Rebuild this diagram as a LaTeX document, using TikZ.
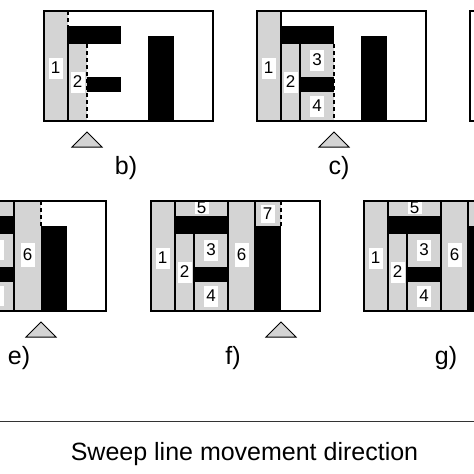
\documentclass[tikz,border=0pt]{standalone}
\usepackage{fontspec}
\setmainfont{Liberation Sans}
\definecolor{lg}{RGB}{212,212,212}
\begin{document}
\begin{tikzpicture}[x=1pt,y=-1pt,
  box/.style={draw=black,line width=1.9pt},
  sep/.style={draw=black,line width=1.3pt},
  sweepline/.style={draw=black,line width=1.3pt,dash pattern=on 4pt off 3pt},
  num/.style={fill=white,inner sep=0pt,minimum width=14pt,minimum height=21pt,font=\fontsize{17}{18}\selectfont},
  tag/.style={font=\fontsize{25}{28}\selectfont,anchor=base},
  marker/.style={draw=black,fill=lg,line width=1pt,line join=miter}]
\useasboundingbox (0,0) rectangle (474,474);
\clip (0,0) rectangle (474,474);
% ---------- panel b
\begin{scope}[shift={(44,11)}]
 \fill[lg] (0,0) rectangle (24,110);
 \fill[lg] (24,33) rectangle (43,110);
 \fill (24,15) rectangle (77,33);
 \fill (43,66) rectangle (77,81);
 \fill (104,25) rectangle (130,110);
 \draw[sep] (24,15) -- (24,110);
 \draw[sweepline] (24,0) -- (24,15);
 \draw[sweepline] (43,33) -- (43,110);
 \node[num] (b1) at (11.5,57) {1};
 \node[num] (b2) at (33.5,71) {2};
 \draw[box] (0,0) rectangle (169,110);
 \draw[marker] (43,121) -- (28,136) -- (58,136) -- cycle;
 \node[tag] (bt) at (82,163) {b)};
\end{scope}
% ---------- panel c
\begin{scope}[shift={(257,11)}]
 \fill[lg] (0,0) rectangle (24,110);
 \fill[lg] (24,33) rectangle (43,110);
 \fill[lg] (43,33) rectangle (77,66);
 \fill[lg] (43,81) rectangle (77,110);
 \fill (24,15) rectangle (77,33);
 \fill (43,66) rectangle (77,81);
 \fill (104,25) rectangle (130,110);
 \draw[sep] (24,0) -- (24,110);
 \draw[sep] (43,33) -- (43,110);
 \draw[sweepline] (77,33) -- (77,110);
 \node[num] (c1) at (11.5,57) {1};
 \node[num] (c2) at (33.5,71) {2};
 \node[num] (c3) at (60,49) {3};
 \node[num] (c4) at (60,95) {4};
 \draw[box] (0,0) rectangle (169,110);
 \draw[marker] (77,121) -- (62,136) -- (92,136) -- cycle;
 \node[tag] (ct) at (82,163) {c)};
\end{scope}
% ---------- panel d (edge only)
\begin{scope}[shift={(470,11)}]
 \draw[box] (0,0) rectangle (169,110);
\end{scope}
% ---------- panel e
\begin{scope}[shift={(-63,201)}]
 \fill[lg] (0,0) rectangle (24,110);
 \fill[lg] (24,0) rectangle (77,15);
 \fill[lg] (24,33) rectangle (43,110);
 \fill[lg] (43,33) rectangle (77,66);
 \fill[lg] (43,81) rectangle (77,110);
 \fill[lg] (77,0) rectangle (104,110);
 \fill (24,15) rectangle (77,33);
 \fill (43,66) rectangle (77,81);
 \fill (104,25) rectangle (130,110);
 \draw[sep] (24,0) -- (24,110);
 \draw[sep] (43,33) -- (43,110);
 \draw[sep] (77,0) -- (77,110);
 \draw[sweepline] (104,0) -- (104,25);
 \fill[white] (53,39) rectangle (67,59);
 \fill[white] (53,85) rectangle (67,105);
 \node[num,minimum height=24pt] (e6) at (90.5,54) {6};
 \draw[box] (0,0) rectangle (169,110);
 \draw[marker] (104,121) -- (89,136) -- (119,136) -- cycle;
 \node[tag] (et) at (82,163) {e)};
\end{scope}
% ---------- panel f
\begin{scope}[shift={(151,201)}]
 \fill[lg] (0,0) rectangle (24,110);
 \fill[lg] (24,0) rectangle (77,15);
 \fill[lg] (24,33) rectangle (43,110);
 \fill[lg] (43,33) rectangle (77,66);
 \fill[lg] (43,81) rectangle (77,110);
 \fill[lg] (77,0) rectangle (104,110);
 \fill[lg] (104,0) rectangle (130,25);
 \fill (24,15) rectangle (77,33);
 \fill (43,66) rectangle (77,81);
 \fill (104,25) rectangle (130,110);
 \draw[sep] (24,0) -- (24,110);
 \draw[sep] (43,33) -- (43,110);
 \draw[sep] (77,0) -- (77,110);
 \draw[sep] (104,0) -- (104,110);
 \draw[sweepline] (130,0) -- (130,25);
 \node[num] (f1) at (11.5,57) {1};
 \node[num] (f2) at (33.5,71) {2};
 \node[num] (f3) at (60,49) {3};
 \node[num] (f4) at (60,95) {4};
 \node[num,minimum height=12pt] (f5) at (50.5,7) {5};
 \node[num,minimum height=24pt] (f6) at (90.5,54) {6};
 \node[num,minimum height=18pt] (f7) at (116.5,13) {7};
 \draw[box] (0,0) rectangle (169,110);
 \draw[marker] (130,121) -- (115,136) -- (145,136) -- cycle;
 \node[tag] (ft) at (82,163) {f)};
\end{scope}
% ---------- panel g
\begin{scope}[shift={(364,201)}]
 \fill[lg] (0,0) rectangle (24,110);
 \fill[lg] (24,0) rectangle (77,15);
 \fill[lg] (24,33) rectangle (43,110);
 \fill[lg] (43,33) rectangle (77,66);
 \fill[lg] (43,81) rectangle (77,110);
 \fill[lg] (77,0) rectangle (104,110);
 \fill[lg] (104,0) rectangle (130,25);
 \fill (24,15) rectangle (77,33);
 \fill (43,66) rectangle (77,81);
 \fill (104,25) rectangle (130,110);
 \draw[sep] (24,0) -- (24,110);
 \draw[sep] (43,33) -- (43,110);
 \draw[sep] (77,0) -- (77,110);
 \draw[sep] (104,0) -- (104,110);
 \node[num] (g1) at (11.5,57) {1};
 \node[num] (g2) at (33.5,71) {2};
 \node[num] (g3) at (60,49) {3};
 \node[num] (g4) at (60,95) {4};
 \node[num,minimum height=12pt] (g5) at (50.5,7) {5};
 \node[num,minimum height=24pt] (g6) at (90.5,54) {6};
 \draw[box] (0,0) rectangle (169,110);
 \node[tag] (gt) at (82,163) {g)};
\end{scope}
% ---------- direction line and caption
\coordinate (dirS) at (0,421.7);
\coordinate (dirE) at (474,421.7);
\draw[line width=1.2pt,black!80] (dirS) -- (dirE);
\node[font=\fontsize{25}{28}\selectfont,anchor=base] (cap) at (244.5,460) {Sweep line movement direction};
\end{tikzpicture}
\end{document}
